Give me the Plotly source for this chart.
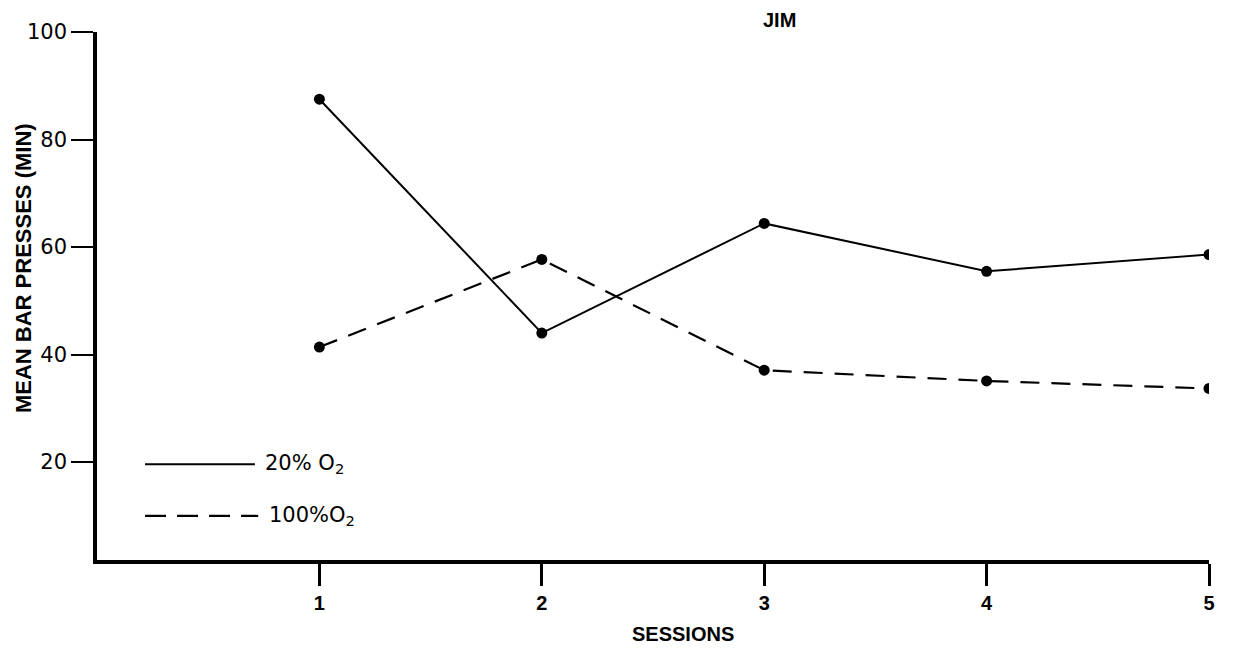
import plotly.graph_objects as go

sessions = [1, 2, 3, 4, 5]
o2_20 = [87.5, 44.0, 64.4, 55.5, 58.6]
o2_100 = [41.4, 57.7, 37.1, 35.1, 33.7]
y_ticks = [20, 40, 60, 80, 100]
x_ticks = [1, 2, 3, 4, 5]

fig = go.Figure()
fig.add_trace(go.Scatter(x=sessions, y=o2_20, mode="lines+markers",
                         line=dict(color="black", width=2),
                         marker=dict(color="black", size=11),
                         showlegend=False))
fig.add_trace(go.Scatter(x=sessions, y=o2_100, mode="lines+markers",
                         line=dict(color="black", width=2.2, dash="19px,12px"),
                         marker=dict(color="black", size=11),
                         showlegend=False))

# hand-drawn style legend
fig.add_shape(type="line", xref="x", yref="y", x0=0.216, x1=0.71, y0=19.6, y1=19.6,
              line=dict(color="black", width=2))
fig.add_shape(type="line", xref="x", yref="y", x0=0.216, x1=0.725, y0=10.0, y1=10.0,
              line=dict(color="black", width=2.2, dash="21px,11px"))
fig.add_annotation(x=0.745, y=19.6, xref="x", yref="y", text="20% O<sub>2</sub>",
                   showarrow=False, xanchor="left", yanchor="middle",
                   font=dict(family="DejaVu Sans", size=21, color="black"))
fig.add_annotation(x=0.765, y=10.0, xref="x", yref="y", text="100%O<sub>2</sub>",
                   showarrow=False, xanchor="left", yanchor="middle",
                   font=dict(family="DejaVu Sans", size=21, color="black"))

fig.add_annotation(x=0.614, y=1.023, xref="paper", yref="paper", text="<b>JIM</b>",
                   showarrow=False, xanchor="center", yanchor="middle",
                   font=dict(family="Liberation Sans", size=20, color="black"))
fig.add_annotation(x=-0.0665, y=0.553, xref="paper", yref="paper",
                   text="<b>MEAN BAR PRESSES (MIN)</b>", textangle=-90,
                   showarrow=False, xanchor="center", yanchor="middle",
                   font=dict(family="Liberation Sans", size=22, color="black"))
fig.add_annotation(x=0.527, y=-0.140, xref="paper", yref="paper",
                   text="<b>SESSIONS</b>",
                   showarrow=False, xanchor="center", yanchor="middle",
                   font=dict(family="Liberation Sans", size=20, color="black"))

fig.update_xaxes(range=[0, 5], tickvals=x_ticks, ticktext=[f"<b>{v}</b>" for v in x_ticks],
                 showgrid=False, zeroline=False, showline=True, linecolor="black",
                 linewidth=3.5, ticks="outside", ticklen=22, tickwidth=2.5,
                 tickcolor="black",
                 tickfont=dict(family="Liberation Sans", size=20, color="black"))
fig.update_yaxes(range=[1.8, 100], tickvals=y_ticks,
                 showgrid=False, zeroline=False, showline=True, linecolor="black",
                 linewidth=3.5, ticks="outside", ticklen=22, tickwidth=2,
                 tickcolor="black",
                 tickfont=dict(family="DejaVu Sans", size=21, color="black"))

# page body has an 8px default margin; offset the plot area to compensate
fig.update_layout(width=1233, height=653, plot_bgcolor="white", paper_bgcolor="white",
                  margin=dict(l=89, r=32, t=24, b=101), showlegend=False)

fig.write_html("out.html")
